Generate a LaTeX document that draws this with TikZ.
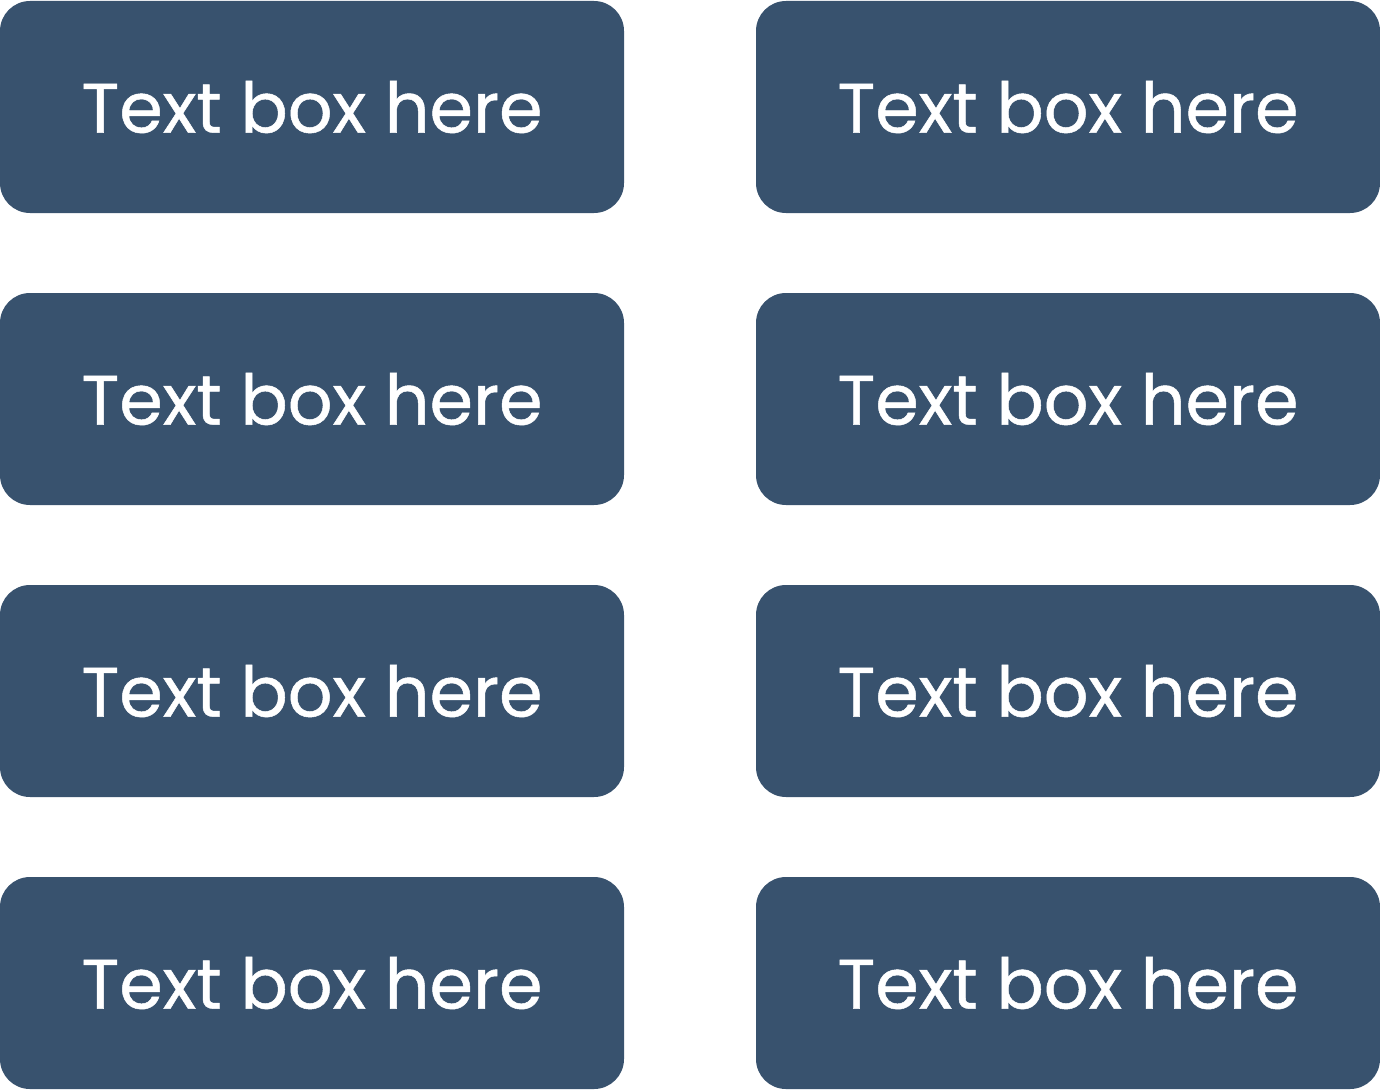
\documentclass[tikz,border=0pt]{standalone}
\usepackage{fontspec}
\newfontfamily\boxfont{Poppins}[FakeBold=0.7]
\definecolor{boxblue}{HTML}{38526E}
\begin{document}
\begin{tikzpicture}[x=1pt,y=-1pt,
  tbox/.style={rectangle, rounded corners=30pt, fill=boxblue, draw=none,
    minimum width=624pt, minimum height=212pt, inner sep=0pt,
    text=white, font=\boxfont\fontsize{70}{80}\selectfont}]
\useasboundingbox (0,0) rectangle (1380,1089);
\node[tbox] (b11) at (312,107) {Text box here};
\node[tbox] (b12) at (1068,107) {Text box here};
\node[tbox] (b21) at (312,399) {Text box here};
\node[tbox] (b22) at (1068,399) {Text box here};
\node[tbox] (b31) at (312,691) {Text box here};
\node[tbox] (b32) at (1068,691) {Text box here};
\node[tbox] (b41) at (312,983) {Text box here};
\node[tbox] (b42) at (1068,983) {Text box here};
\end{tikzpicture}
\end{document}
